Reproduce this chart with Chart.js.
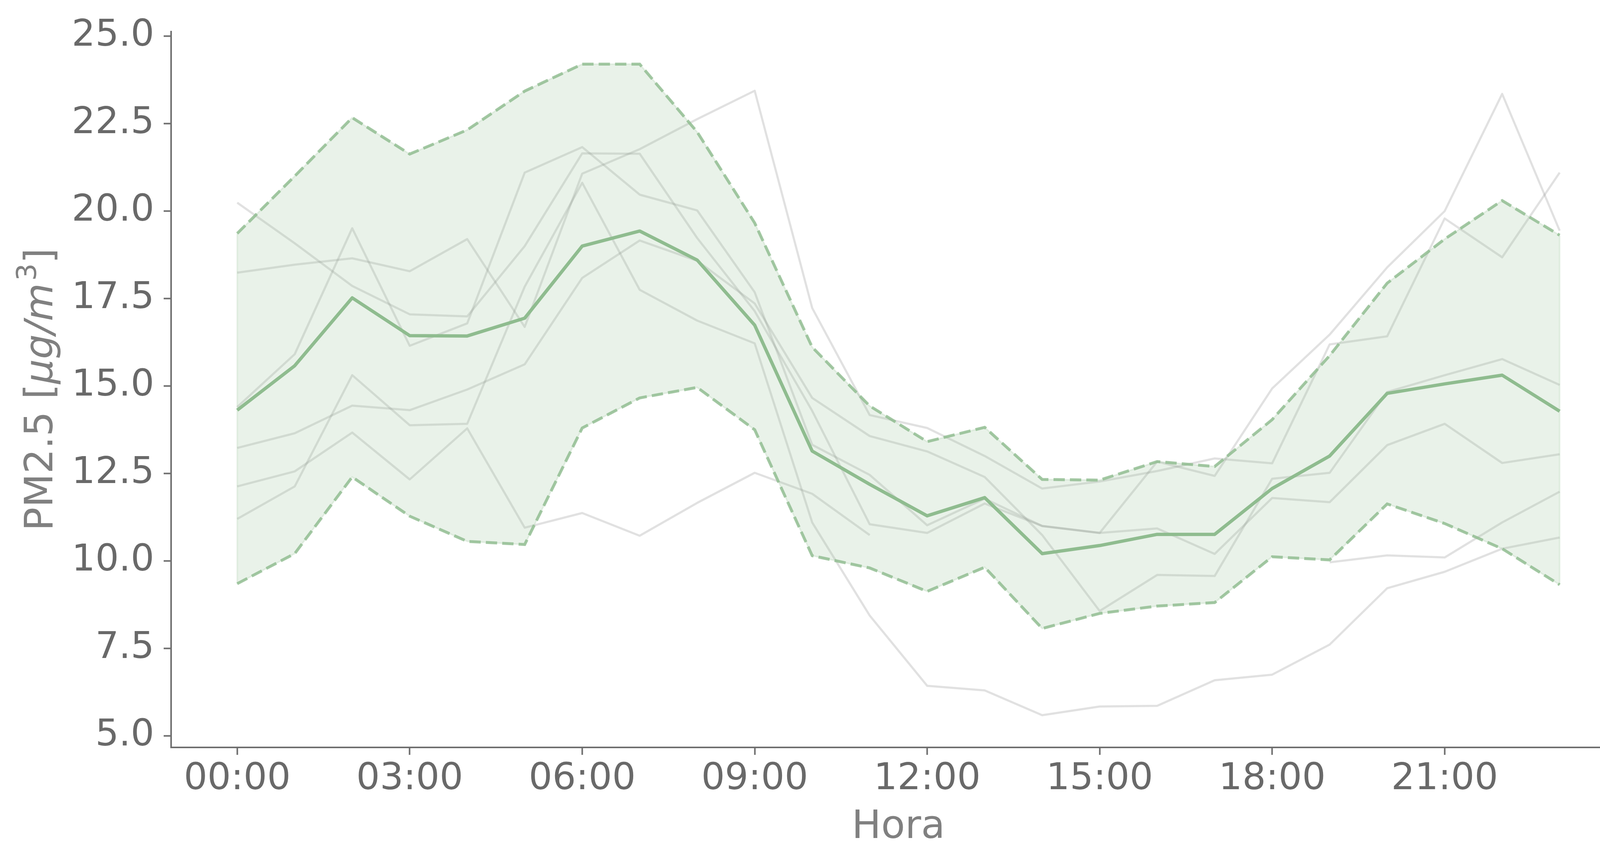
<!DOCTYPE html>
<html>
<head>
<meta charset="utf-8">
<script src="https://cdn.jsdelivr.net/npm/chart.js@4.4.1/dist/chart.umd.min.js"></script>
<style>
html,body{margin:0;padding:0;background:#ffffff;}
#wrap{width:4199px;height:2210px;}
</style>
</head>
<body>
<div id="wrap"><canvas id="c" width="4199" height="2210"></canvas></div>
<script>
// ---- data ----
const hours = [0,1,2,3,4,5,6,7,8,9,10,11,12,13,14,15,16,17,18,19,20,21,22,23];
const tickHours = [0,3,6,9,12,15,18,21];
const tickLabels = ['00:00','03:00','06:00','09:00','12:00','15:00','18:00','21:00'];
const yTickValues = [5,7.5,10,12.5,15,17.5,20,22.5,25];
const xTitle = 'Hora';
const yTitleParts = ['PM2.5 [', 'μg/m', '3', ']'];

const meanValues  = [14.31,15.58,17.52,16.44,16.43,16.94,19.00,19.43,18.60,16.74,13.14,12.19,11.29,11.81,10.21,10.44,10.76,10.76,12.07,13.00,14.79,15.06,15.31,14.28];
const upperValues = [19.36,21.00,22.67,21.63,22.32,23.43,24.20,24.20,22.26,19.66,16.11,14.43,13.41,13.82,12.33,12.31,12.84,12.70,14.04,15.87,17.94,19.20,20.30,19.31];
const lowerValues = [9.35,10.21,12.40,11.28,10.56,10.47,13.80,14.66,14.96,13.75,10.15,9.80,9.13,9.82,8.07,8.50,8.71,8.81,10.12,10.03,11.63,11.07,10.35,9.32];

const grayA = [20.24,19.08,17.86,17.05,16.99,19.00,21.65,21.64,19.23,17.14,14.29,11.05,10.80,11.64,11.00,10.80,12.84,12.43,14.93,16.47,18.39,20.00,23.35,19.44];
const grayB = [18.24,18.47,18.65,18.28,19.20,16.69,21.07,21.77,22.63,23.44,17.23,14.17,13.80,13.00,12.07,12.27,12.57,12.93,12.79,16.19,16.42,19.79,18.68,21.10];
const grayC = [13.23,13.65,14.44,14.31,14.90,15.62,18.09,19.16,18.58,17.36,14.66,13.57,13.13,12.40,10.74,8.57,9.60,9.57,12.35,12.52,14.83,15.31,15.77,15.03];
const grayD = [12.13,12.56,13.67,12.33,13.79,10.95,11.37,10.72,11.66,12.52,11.92,10.74,null,null,null,null,null,null,null,9.96,10.16,10.10,11.10,11.98];
const grayE = [11.20,12.13,15.31,13.88,13.92,17.84,20.81,17.75,16.87,16.22,11.10,8.44,6.43,6.30,5.59,5.84,5.86,6.59,6.75,7.61,9.22,9.69,10.35,10.67];
const grayF = [14.40,15.91,19.51,16.15,16.79,21.10,21.83,20.47,20.02,17.68,13.32,12.46,11.02,11.78,11.00,10.80,10.93,10.20,11.80,11.68,13.31,13.92,12.80,13.05];
const graySeries = [grayA, grayB, grayC, grayD, grayE, grayF];

// ---- styles ----
const green = 'rgb(143,188,143)';
const greenDash = 'rgba(143,188,143,0.8)';
const greenFill = 'rgba(143,188,143,0.2)';
const grayLine = 'rgba(140,140,140,0.26)';
const axisColor = '#6e6e6e';
const tickColor = '#696969';
const titleColor = '#808080';
const FONT = "'DejaVu Sans', sans-serif";

const toXY = arr => hours.map((h, i) => ({x: h, y: arr[i]}));

const datasets = [];
graySeries.forEach((s, i) => {
  datasets.push({
    label: 'g' + i, data: toXY(s), borderColor: grayLine, borderWidth: 5.5,
    pointRadius: 0, fill: false, spanGaps: false, tension: 0,
    borderJoinStyle: 'round', order: 10
  });
});
// band (upper fills to lower)
datasets.push({
  label: 'bandUpper', data: toXY(upperValues), borderColor: greenFill, borderWidth: 4,
  backgroundColor: greenFill, pointRadius: 0, fill: {target: graySeries.length + 1}, tension: 0, order: 8
});
datasets.push({
  label: 'bandLower', data: toXY(lowerValues), borderColor: greenFill, borderWidth: 4,
  pointRadius: 0, fill: false, tension: 0, order: 8
});
datasets.push({
  label: 'upper', data: toXY(upperValues), borderColor: greenDash, borderWidth: 7.5,
  borderDash: [29, 13], pointRadius: 0, fill: false, tension: 0, order: 2
});
datasets.push({
  label: 'lower', data: toXY(lowerValues), borderColor: greenDash, borderWidth: 7.5,
  borderDash: [29, 13], pointRadius: 0, fill: false, tension: 0, order: 2
});
datasets.push({
  label: 'mean', data: toXY(meanValues), borderColor: green, borderWidth: 8.5,
  pointRadius: 0, fill: false, tension: 0, borderJoinStyle: 'round', order: 1
});

const bandEdges = {
  id: 'bandEdges',
  beforeDatasetsDraw(chart) {
    const {ctx, scales: {x, y}} = chart;
    ctx.save();
    ctx.strokeStyle = greenFill;
    ctx.lineWidth = 4;
    [0, hours.length - 1].forEach(i => {
      const px = x.getPixelForValue(hours[i]);
      ctx.beginPath();
      ctx.moveTo(px, y.getPixelForValue(lowerValues[i]));
      ctx.lineTo(px, y.getPixelForValue(upperValues[i]));
      ctx.stroke();
    });
    ctx.restore();
  }
};

const yTitlePlugin = {
  id: 'yTitle',
  afterDraw(chart) {
    const {ctx, chartArea} = chart;
    const cy = (chartArea.top + chartArea.bottom) / 2;
    const bx = chartArea.left - 304;
    const fonts = [`100px ${FONT}`, `italic 100px ${FONT}`, `70px ${FONT}`, `100px ${FONT}`];
    const dys = [0, 0, -42, 0];
    const gaps = [0, 0, 6, 0];
    ctx.save();
    let total = 0;
    const widths = yTitleParts.map((t, i) => { ctx.font = fonts[i]; const w = ctx.measureText(t).width; total += w + gaps[i]; return w; });
    ctx.translate(bx, cy);
    ctx.rotate(-Math.PI / 2);
    ctx.fillStyle = titleColor;
    ctx.textBaseline = 'alphabetic';
    ctx.textAlign = 'left';
    let cx = -total / 2;
    yTitleParts.forEach((t, i) => {
      ctx.font = fonts[i];
      cx += gaps[i];
      ctx.fillText(t, cx, dys[i]);
      cx += widths[i];
    });
    ctx.restore();
  }
};

Chart.defaults.font.family = FONT;

new Chart(document.getElementById('c'), {
  type: 'line',
  data: {datasets},
  options: {
    responsive: false,
    devicePixelRatio: 1,
    animation: false,
    layout: {padding: {top: 67, right: 37, bottom: 0, left: 0}},
    plugins: {legend: {display: false}, tooltip: {enabled: false}},
    scales: {
      x: {
        type: 'linear', position: 'bottom', min: -1.15, max: 24.15,
        afterBuildTicks: s => { s.ticks = tickHours.map(v => ({value: v})); },
        afterFit: s => { s.height = 296; },
        ticks: {
          callback: v => tickLabels[tickHours.indexOf(v)],
          font: {size: 95}, color: tickColor, padding: 6, maxRotation: 0, autoSkip: false
        },
        grid: {display: true, drawOnChartArea: false, drawTicks: true, tickLength: 19, tickWidth: 4, tickColor: axisColor},
        border: {display: true, color: axisColor, width: 4},
        title: {display: true, text: xTitle, color: titleColor, font: {size: 100}, padding: {top: 30, bottom: 30}}
      },
      y: {
        type: 'linear', position: 'left', min: 4.67, max: 25.13,
        afterBuildTicks: s => { s.ticks = yTickValues.map(v => ({value: v})); },
        afterFit: s => { s.width = 438; },
        ticks: {
          callback: v => Number(v).toFixed(1),
          font: {size: 95}, color: tickColor, padding: 24, autoSkip: false
        },
        grid: {display: true, drawOnChartArea: false, drawTicks: true, tickLength: 19, tickWidth: 4, tickColor: axisColor},
        border: {display: true, color: axisColor, width: 4}
      }
    }
  },
  plugins: [bandEdges, yTitlePlugin]
});
</script>
</body>
</html>
